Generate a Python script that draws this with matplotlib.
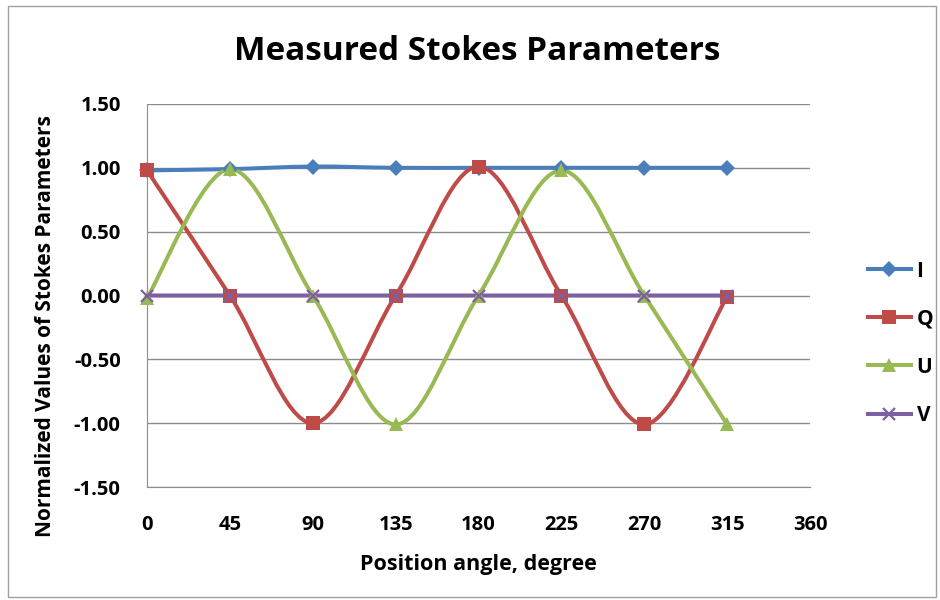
import matplotlib
matplotlib.use("Agg")
import matplotlib.pyplot as plt
from matplotlib.path import Path
from matplotlib.patches import PathPatch, Rectangle
from matplotlib.lines import Line2D

angles = [0, 45, 90, 135, 180, 225, 270, 315]
I = [0.98, 0.99, 1.01, 1.00, 1.00, 1.00, 1.00, 1.00]
Q = [0.98, 0.00, -1.00, 0.00, 1.01, 0.00, -1.01, -0.01]
U = [-0.02, 0.99, 0.00, -1.01, 0.00, 0.98, 0.00, -1.01]
V = [0.00, 0.00, 0.00, 0.00, 0.00, 0.00, 0.00, 0.00]

series = [
    ("I", I, "#4A7EBB", "D", 8),
    ("Q", Q, "#BE4B48", "s", 10),
    ("U", U, "#98B954", "^", 10),
    ("V", V, "#7D60A0", "x", 9),
]

plt.rcParams["font.family"] = ["Open Sans", "DejaVu Sans"]


def smooth_path(xs, ys):
    # Excel-like smoothed line: cubic Bezier with Catmull-Rom control points
    n = len(xs)
    verts = [(xs[0], ys[0])]
    codes = [Path.MOVETO]
    for i in range(n - 1):
        x0, y0 = xs[max(i - 1, 0)], ys[max(i - 1, 0)]
        x1, y1 = xs[i], ys[i]
        x2, y2 = xs[i + 1], ys[i + 1]
        x3, y3 = xs[min(i + 2, n - 1)], ys[min(i + 2, n - 1)]
        c1 = (x1 + (x2 - x0) / 6, y1 + (y2 - y0) / 6)
        c2 = (x2 - (x3 - x1) / 6, y2 - (y3 - y1) / 6)
        verts += [c1, c2, (x2, y2)]
        codes += [Path.CURVE4] * 3
    return Path(verts, codes)


fig = plt.figure(figsize=(9.4, 6), dpi=100)
ax = fig.add_axes([0.1564, 0.1883, 0.7053, 0.6384])

fig.patches.append(Rectangle((0.008, 0.005), 0.988, 0.985, transform=fig.transFigure,
                             fill=False, edgecolor="#A0A0A0", linewidth=1))

handles = []
for name, vals, color, marker, ms in series:
    patch = PathPatch(smooth_path(angles, vals), facecolor="none", edgecolor=color,
                      linewidth=2.9, zorder=3, capstyle="round")
    ax.add_patch(patch)
    mew = 1.6 if marker == "x" else 0
    ax.plot(angles, vals, linestyle="none", marker=marker, markersize=ms,
            color=color, markeredgewidth=mew, zorder=4, clip_on=False)
    handles.append(Line2D([], [], color=color, linewidth=2.9, marker=marker,
                          markersize=ms, markeredgewidth=mew))

ax.set_xlim(0, 360)
ax.set_ylim(-1.5, 1.5)
ax.set_xticks(range(0, 361, 45))
ax.set_yticks([-1.5, -1.0, -0.5, 0.0, 0.5, 1.0, 1.5])
ax.set_yticklabels([f"{v:.2f}" for v in [-1.5, -1.0, -0.5, 0.0, 0.5, 1.0, 1.5]])
ax.yaxis.grid(True, color="#8C8C8C", linewidth=1)
ax.set_axisbelow(True)
for s in ["top", "right"]:
    ax.spines[s].set_visible(False)
ax.spines["left"].set_color("#8C8C8C")
ax.spines["bottom"].set_color("#8C8C8C")
ax.tick_params(axis="both", length=0, labelsize=14.5)
ax.tick_params(axis="x", pad=20)
ax.tick_params(axis="y", pad=19)
for lab in ax.get_xticklabels() + ax.get_yticklabels():
    lab.set_fontweight("bold")

ax.set_xlabel("Position angle, degree", fontsize=15.5, fontweight="bold", labelpad=14)
ax.set_ylabel("Normalized Values of Stokes Parameters", fontsize=15,
              fontweight="bold")
ax.yaxis.set_label_coords(-0.138, 0.42)
fig.text(0.508, 0.915, "Measured Stokes Parameters", fontsize=24, fontweight="bold",
         ha="center", va="center")

fig.legend(handles, ["I", "Q", "U", "V"], loc="center left",
           bbox_to_anchor=(0.903, 0.428), frameon=False,
           handlelength=2.1, labelspacing=1.3, handletextpad=0.25,
           prop={"weight": "bold", "size": 15})

fig.savefig("out.png", dpi=100)
